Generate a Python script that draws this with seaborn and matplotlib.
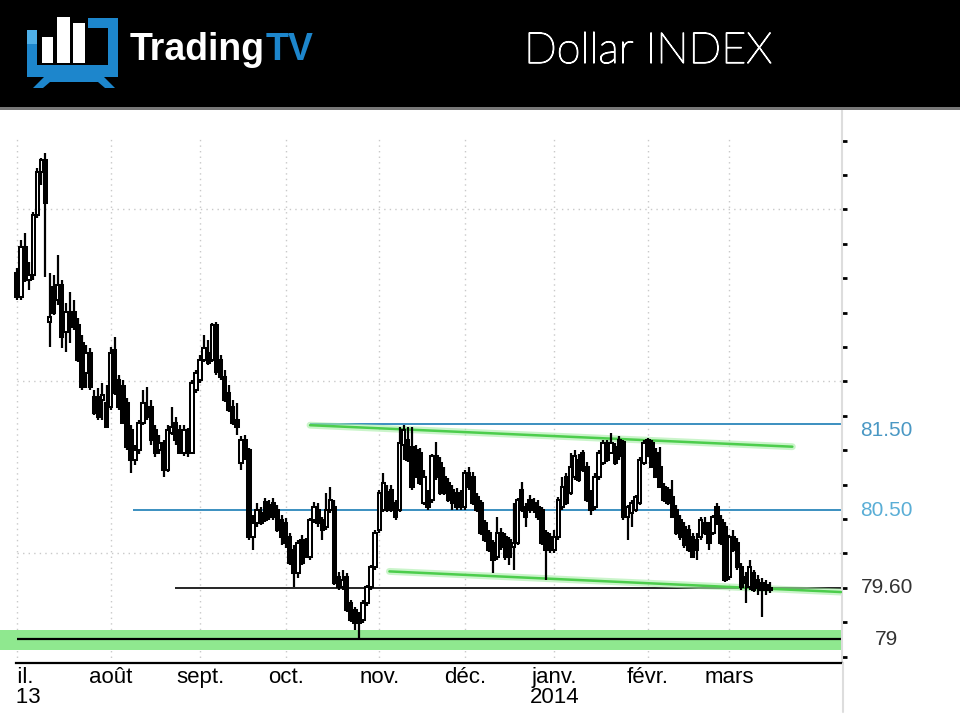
import numpy as np
import pandas as pd
import matplotlib
matplotlib.use("Agg")
import matplotlib.pyplot as plt
import matplotlib.patheffects as pe
import seaborn as sns
from matplotlib.patches import Rectangle, Polygon
from matplotlib.lines import Line2D

# ---------------- data ----------------
start_date = "2013-07-01"
month_names = {7: "juil.", 8: "août", 9: "sept.", 10: "oct.", 11: "nov.",
               12: "déc.", 1: "janv.", 2: "févr.", 3: "mars"}

opens = [83.26, 82.98, 83.56, 83.18, 83.24, 83.93, 84.43, 84.57, 82.69, 83.10,
         82.95, 83.12, 82.57, 82.81, 82.81, 82.65, 82.44, 82.10, 82.33, 81.82,
         81.82, 81.78, 81.75, 81.70, 82.36, 82.02, 81.94, 81.75, 81.43, 81.08,
         81.20, 81.52, 81.70, 81.70, 81.43, 81.20, 81.28, 80.97, 81.40, 81.52,
         81.43, 81.17, 81.43, 81.17, 81.90, 82.02, 82.25, 82.33, 82.25, 82.65,
         82.25, 82.05, 81.86, 81.70, 81.55, 81.05, 81.32, 81.20, 80.19, 80.35,
         80.47, 80.60, 80.56, 80.58, 80.50, 80.39, 80.35, 80.19, 80.04, 79.77,
         80.15, 80.12, 79.96, 80.39, 80.50, 80.39, 80.31, 80.50, 80.54, 79.72,
         79.61, 79.72, 79.42, 79.34, 79.26, 79.22, 79.42, 79.61, 79.84, 80.27,
         80.50, 80.71, 80.74, 80.58, 80.50, 81.26, 81.32, 81.24, 81.20, 81.17,
         80.58, 80.70, 80.62, 81.13, 81.05, 80.89, 80.82, 80.74, 80.70, 80.70,
         80.54, 80.93, 80.89, 80.65, 80.58, 80.35, 80.24, 80.12, 79.96, 80.24,
         80.19, 80.15, 80.07, 80.12, 80.74, 80.54, 80.62, 80.58, 80.54, 80.50,
         80.24, 80.19, 80.04, 80.19, 80.54, 80.89, 80.70, 80.89, 81.08, 81.17,
         81.00, 80.70, 80.54, 80.89, 81.05, 81.28, 81.17, 81.24, 81.32, 81.29,
         80.42, 80.47, 80.50, 80.58, 81.05, 81.32, 81.28, 81.17, 81.00, 80.77,
         80.74, 80.65, 80.50, 80.39, 80.31, 80.27, 80.19, 80.15, 80.19, 80.35,
         80.31, 80.24, 80.54, 80.39, 80.31, 79.72, 80.19, 80.12, 79.84, 79.72,
         79.61, 79.77, 79.69, 79.65, 79.63, 79.60]

highs = [83.32, 83.64, 83.72, 83.39, 83.97, 84.48, 84.60, 84.66, 83.26, 83.24,
         83.47, 83.18, 82.91, 83.04, 82.95, 82.74, 82.54, 82.42, 82.39, 81.90,
         81.92, 81.98, 81.96, 82.40, 82.51, 82.07, 82.02, 81.81, 81.49, 81.26,
         81.55, 81.90, 81.94, 81.78, 81.49, 81.38, 81.32, 81.49, 81.70, 81.58,
         81.49, 81.49, 81.46, 82.02, 82.13, 82.31, 82.54, 82.48, 82.68, 82.69,
         82.31, 82.13, 81.96, 81.78, 81.75, 81.36, 81.38, 81.22, 80.45, 80.58,
         80.54, 80.64, 80.62, 80.64, 80.56, 80.45, 80.41, 80.24, 80.10, 80.15,
         80.21, 80.18, 80.41, 80.60, 80.58, 80.42, 80.70, 80.77, 80.62, 79.78,
         79.81, 79.77, 79.46, 79.38, 79.32, 79.46, 79.63, 79.86, 80.27, 80.74,
         80.93, 80.79, 80.79, 80.62, 81.47, 81.49, 81.47, 81.47, 81.26, 81.22,
         80.97, 80.74, 81.15, 81.29, 81.12, 81.00, 80.88, 80.79, 80.76, 80.74,
         80.97, 81.00, 80.95, 80.70, 80.62, 80.39, 80.27, 80.15, 80.42, 80.29,
         80.24, 80.19, 80.58, 80.64, 80.83, 80.58, 80.68, 80.64, 80.62, 80.54,
         80.27, 80.24, 80.27, 80.65, 80.89, 80.93, 81.17, 81.20, 81.15, 81.20,
         81.06, 80.74, 80.93, 81.20, 81.32, 81.32, 81.40, 81.28, 81.36, 81.32,
         80.56, 80.62, 80.68, 81.12, 81.32, 81.34, 81.32, 81.22, 81.24, 80.82,
         80.77, 80.85, 80.56, 80.45, 80.36, 80.33, 80.24, 80.24, 80.42, 80.42,
         80.36, 80.45, 80.58, 80.45, 80.36, 80.21, 80.27, 80.18, 79.89, 79.78,
         79.92, 79.81, 79.75, 79.71, 79.69, 79.67]

lows = [82.95, 82.95, 83.15, 83.06, 83.18, 83.90, 84.28, 83.21, 82.40, 82.77,
        82.89, 82.39, 82.34, 82.44, 82.60, 82.22, 81.90, 81.92, 81.90, 81.61,
        81.55, 81.55, 81.46, 81.67, 81.84, 81.67, 81.52, 81.20, 80.93, 81.03,
        81.15, 81.49, 81.55, 81.26, 81.12, 81.15, 80.89, 80.95, 81.38, 81.26,
        81.15, 81.13, 81.12, 81.15, 81.86, 81.98, 82.22, 82.19, 82.22, 82.07,
        82.02, 81.76, 81.64, 81.49, 81.38, 80.97, 81.08, 80.15, 80.04, 80.31,
        80.33, 80.36, 80.39, 80.39, 80.25, 80.10, 80.06, 79.86, 79.61, 79.71,
        79.86, 79.95, 79.92, 80.35, 80.31, 80.15, 80.27, 80.47, 79.63, 79.57,
        79.57, 79.32, 79.20, 79.11, 79.02, 79.19, 79.39, 79.57, 79.81, 80.24,
        80.48, 80.48, 80.48, 80.39, 80.48, 81.08, 81.06, 80.74, 80.88, 80.79,
        80.56, 80.50, 80.58, 80.85, 80.68, 80.68, 80.60, 80.50, 80.50, 80.50,
        80.50, 80.74, 80.56, 80.48, 80.21, 80.13, 80.02, 79.77, 79.92, 80.04,
        79.92, 79.86, 79.81, 80.10, 80.48, 80.31, 80.47, 80.47, 80.39, 80.10,
        79.69, 80.00, 80.00, 80.15, 80.50, 80.56, 80.68, 80.85, 80.83, 80.95,
        80.60, 80.45, 80.50, 80.85, 81.03, 81.06, 81.15, 81.03, 81.08, 80.39,
        80.15, 80.31, 80.48, 80.56, 81.03, 81.12, 80.99, 80.88, 80.76, 80.60,
        80.56, 80.41, 80.21, 80.15, 80.06, 80.02, 79.95, 79.92, 80.15, 80.21,
        80.04, 80.21, 80.33, 80.10, 79.67, 79.69, 80.02, 79.81, 79.57, 79.42,
        79.57, 79.55, 79.52, 79.26, 79.52, 79.54]

closes = [82.98, 83.56, 83.18, 83.24, 83.93, 84.43, 84.57, 84.07, 82.75, 82.79,
          83.12, 82.51, 82.81, 82.63, 82.63, 82.25, 81.94, 82.33, 81.94, 81.63,
          81.58, 81.84, 81.47, 82.33, 81.86, 81.70, 81.52, 81.24, 81.08, 81.20,
          81.52, 81.75, 81.58, 81.32, 81.17, 81.28, 80.97, 81.43, 81.47, 81.32,
          81.17, 81.43, 81.17, 81.98, 82.10, 82.25, 82.39, 82.21, 82.65, 82.11,
          82.05, 81.78, 81.67, 81.52, 81.47, 81.32, 81.13, 80.19, 80.35, 80.50,
          80.35, 80.39, 80.42, 80.42, 80.27, 80.19, 80.12, 79.89, 79.77, 80.12,
          79.89, 80.00, 80.39, 80.54, 80.35, 80.27, 80.50, 80.62, 79.65, 79.61,
          79.69, 79.34, 79.22, 79.19, 79.19, 79.42, 79.61, 79.84, 80.24, 80.70,
          80.82, 80.50, 80.50, 80.42, 81.28, 81.43, 81.08, 80.77, 80.91, 80.82,
          80.89, 80.54, 81.13, 80.89, 80.70, 80.70, 80.62, 80.58, 80.54, 80.54,
          80.93, 80.77, 80.58, 80.50, 80.24, 80.15, 80.04, 79.92, 80.24, 80.07,
          79.96, 79.96, 80.12, 80.62, 80.50, 80.42, 80.50, 80.50, 80.42, 80.12,
          80.04, 80.04, 80.19, 80.62, 80.77, 80.58, 81.00, 81.13, 80.85, 80.97,
          80.62, 80.50, 80.89, 81.17, 81.28, 81.08, 81.28, 81.05, 81.13, 80.42,
          80.54, 80.58, 80.65, 81.08, 81.28, 81.13, 81.00, 80.89, 80.77, 80.62,
          80.58, 80.42, 80.24, 80.19, 80.10, 80.04, 79.96, 80.04, 80.39, 80.24,
          80.12, 80.42, 80.35, 80.12, 79.69, 80.19, 80.04, 79.84, 79.61, 79.65,
          79.84, 79.57, 79.60, 79.57, 79.60, 79.57]

level_values = [81.50, 80.50, 79.60, 79.00]
level_labels = ["81.50", "80.50", "79.60", "79"]
upper_trend_x = [72, 190.5]
upper_trend_y = [81.49, 81.24]
lower_trend_x = [91.5, 202.5]
lower_trend_y = [79.79, 79.55]
support_band = [78.88, 79.11]

# ---------------- build table ----------------
dates = pd.bdate_range(start_date, periods=len(closes))
df = pd.DataFrame({"date": dates, "open": opens, "high": highs,
                   "low": lows, "close": closes})
df["idx"] = np.arange(len(df))
month_starts = df.groupby([df.date.dt.year, df.date.dt.month])["idx"].min().values
tick_labels = []
for i in month_starts:
    d = df.date.iloc[i]
    lab = month_names[d.month]
    if i == 0 or d.month == 1:
        lab += "\n" + str(d.year)
    tick_labels.append(lab)

# ---------------- figure ----------------
sns.set_theme(style="white")
plt.rcParams["font.family"] = ["Liberation Sans", "DejaVu Sans"]

W, H = 960, 720
fig = plt.figure(figsize=(9.6, 7.2), dpi=100)
fig.patch.set_facecolor("white")

px_left0, px_per_bar = 17.0, 4.07
ax_right_px, ax_top_px, ax_bot_px = 842, 110, 663
ax = fig.add_axes([0, (H - ax_bot_px) / H, ax_right_px / W,
                   (ax_bot_px - ax_top_px) / H])
xmin = -px_left0 / px_per_bar
xmax = (ax_right_px - px_left0) / px_per_bar
ymin, ymax = 78.725, 85.155
ax.set_xlim(xmin, xmax)
ax.set_ylim(ymin, ymax)
ax.set_facecolor("white")

grid_kw = dict(color="#c9c9c9", lw=1.0, linestyles=(0, (1, 3)), zorder=0)
ax.vlines(month_starts, ymin, 84.85, **grid_kw)
ax.hlines([80, 82, 84], 0, xmax, **grid_kw)

# support band + level lines
ax.axhspan(support_band[0], support_band[1], color="#8fe88f", lw=0, zorder=1)
ax.hlines(level_values[3], 0, xmax, color="black", lw=1.6, zorder=2)
ax.hlines(level_values[2], 38.8, xmax, color="black", lw=1.2, zorder=2)
ax.hlines(level_values[1], 28.5, xmax, color="#3b8fc0", lw=1.4, zorder=2)
ax.hlines(level_values[0], 72, xmax, color="#3b8fc0", lw=1.4, zorder=2)

# trend lines (seaborn), with soft halo
for tx, ty in [(upper_trend_x, upper_trend_y), (lower_trend_x, lower_trend_y)]:
    sns.lineplot(x=tx, y=ty, ax=ax, color="#a8eea8", lw=5, alpha=0.6,
                 zorder=2.5, legend=False)
    sns.lineplot(x=tx, y=ty, ax=ax, color="#4ccd4c", lw=1.8,
                 zorder=2.6, legend=False)

# candles
up = df.close >= df.open
ax.vlines(df.idx, df.low, df.high, color="black", lw=1.6, zorder=3)
body_lo = np.minimum(df.open, df.close)
body_h = np.maximum(np.abs(df.close - df.open), 0.015)
ax.bar(df.idx, body_h, bottom=body_lo, width=0.85,
       color=np.where(up, "white", "black"), edgecolor="black",
       linewidth=1.45, zorder=4)

# axes styling
for s in ["left", "top"]:
    ax.spines[s].set_visible(False)
ax.spines["bottom"].set_color("black")
ax.spines["bottom"].set_linewidth(1.6)
ax.spines["bottom"].set_bounds(-0.2, xmax)
ax.spines["right"].set_color("#dddddd")
ax.spines["right"].set_linewidth(1.5)
ax.yaxis.tick_right()
ax.set_yticks(np.arange(78.8, 84.81, 0.4))
ax.set_yticklabels([])
ax.tick_params(axis="y", which="major", right=True, left=False,
               length=3.5, width=2.0, color="black", direction="out", pad=0)
ax.set_xticks(month_starts)
ax.set_xticklabels(tick_labels, fontsize=16, color="black", linespacing=0.95)
ax.tick_params(axis="x", length=0, pad=3)
ax.set_xlabel("")
ax.set_ylabel("")
ax.grid(False)

label_colors = ["#4a98c4", "#5aaed6", "#333333", "#333333"]
label_off = [-0.07, 0.0, 0.0, 0.0]
for v, lab, col, off in zip(level_values, level_labels, label_colors, label_off):
    ax.text(1.053, v + off, lab, transform=ax.get_yaxis_transform(),
            ha="center", va="center", fontsize=15, color=col, clip_on=False)

# hide the clipped part of the first month label (as in the reference)
fig.patches.append(Rectangle((0, 0), 17 / W, (H - ax_bot_px - 2) / H,
                             transform=fig.transFigure, facecolor="white",
                             edgecolor="none", zorder=10))
fig.lines.append(Line2D([842.5 / W, 842.5 / W], [(H - 712) / H, (H - 663) / H],
                        transform=fig.transFigure, color="#dddddd", lw=1.5))

# ---------------- header ----------------
hax = fig.add_axes([0, 1 - 110 / H, 1, 110 / H])
hax.set_xlim(0, W)
hax.set_ylim(110, 0)
hax.axis("off")
hax.add_patch(Rectangle((0, 0), W, 107, color="black", lw=0))
hax.add_patch(Rectangle((0, 107), W, 2.5, color="#777777", lw=0))
blue = "#1d86cc"
for r in [(27, 30, 10, 47), (27, 65, 91, 12), (108, 18, 10, 59), (88, 18, 30, 10)]:
    hax.add_patch(Rectangle((r[0], r[1]), r[2], r[3], color=blue, lw=0))
hax.add_patch(Rectangle((27, 30), 10, 14, color="#4fb0e8", lw=0))
for r in [(42, 37, 11, 26), (57, 17, 13, 46), (73, 23, 12, 40)]:
    hax.add_patch(Rectangle((r[0], r[1]), r[2], r[3], color="white", lw=0))
hax.add_patch(Polygon([(33, 88), (44, 77), (104, 77), (115, 88), (105, 88),
                       (98, 82), (50, 82), (43, 88)],
                      closed=True, color=blue, lw=0))
logo_fam = ["Liberation Sans", "DejaVu Sans"]
t1 = hax.text(130, 60, "Trading", color="white", fontsize=27, fontweight="bold",
              family=logo_fam, va="baseline")
fig.canvas.draw()
bb = t1.get_window_extent(renderer=fig.canvas.get_renderer())
x_end = hax.transData.inverted().transform((bb.x1, bb.y0))[0]
hax.text(x_end, 60, "TV", color=blue, fontsize=27, fontweight="bold",
         family=logo_fam, va="baseline")
hax.text(648, 63, "Dollar INDEX", color="white", fontsize=31, fontweight="light",
         family=["Lato", "Open Sans", "DejaVu Sans"], va="baseline", ha="center",
         path_effects=[pe.withStroke(linewidth=0.9, foreground="white")])

fig.savefig("out.png", dpi=100, facecolor="white")
